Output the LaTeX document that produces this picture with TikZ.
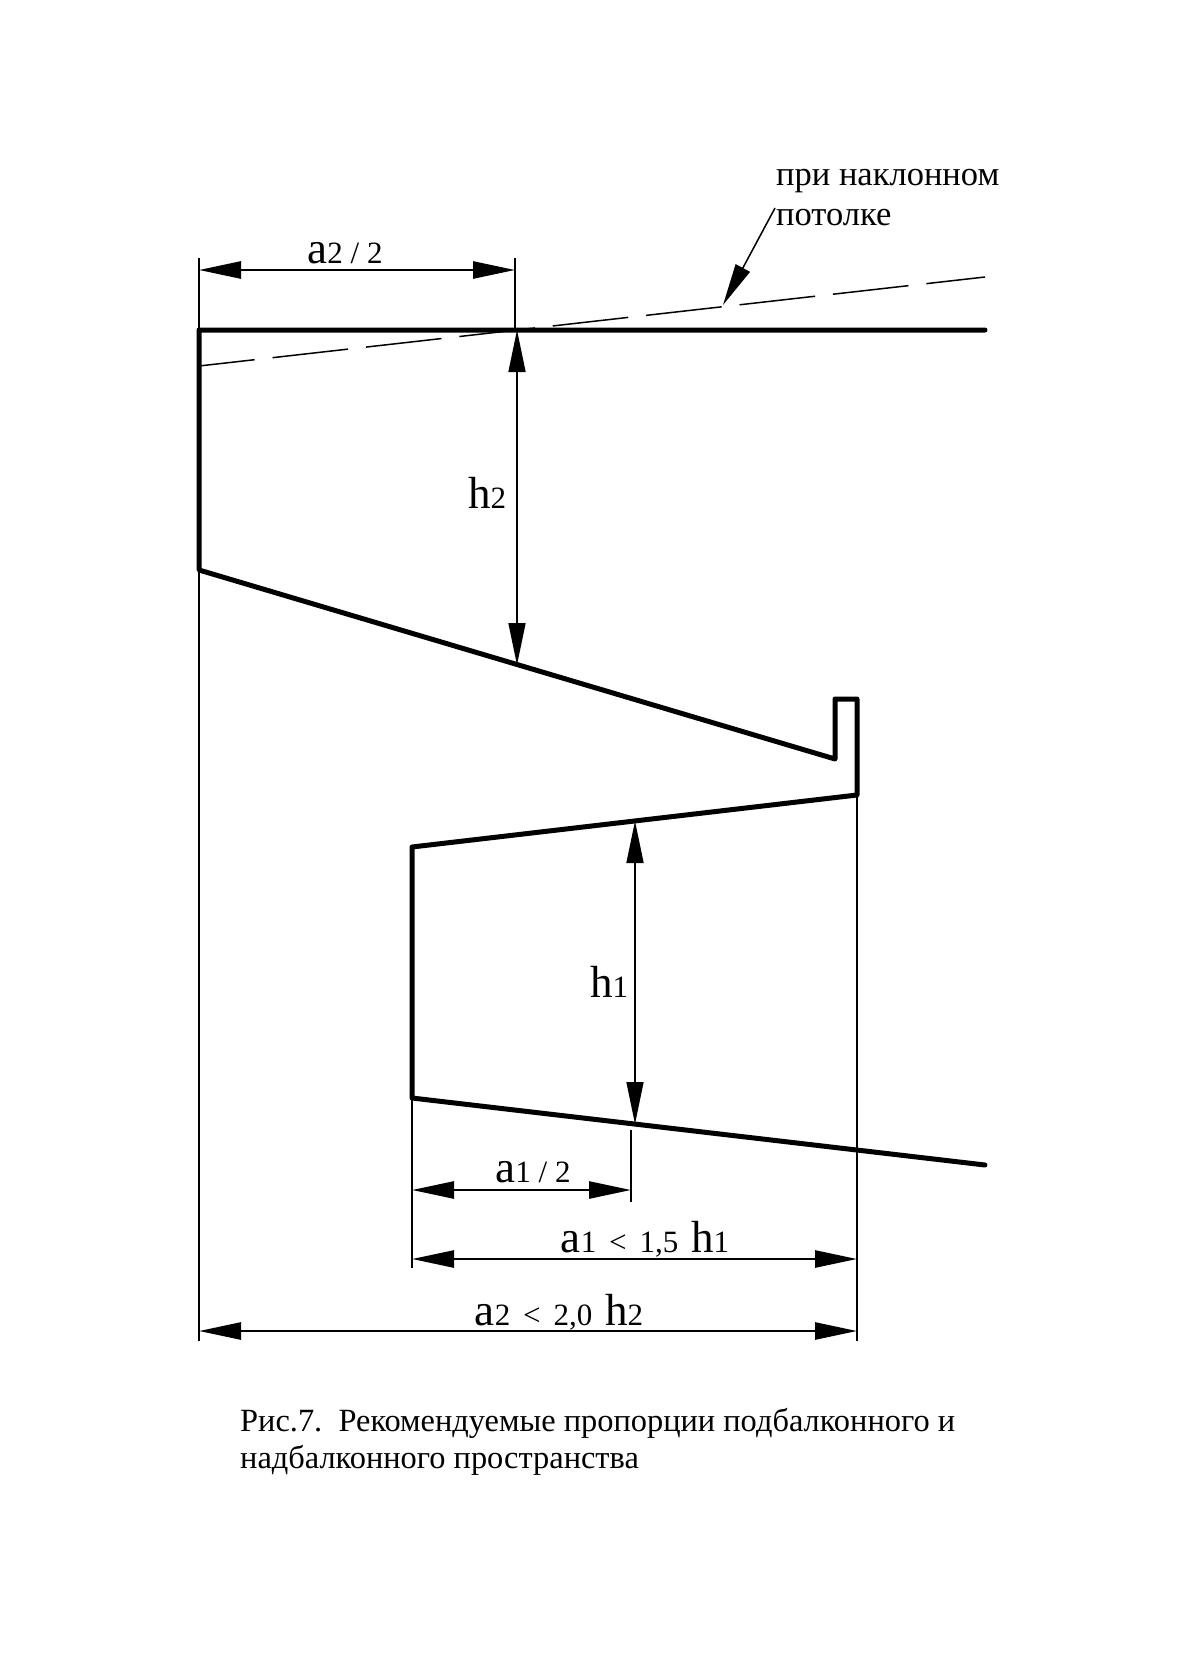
\documentclass[tikz,border=0pt]{standalone}
\usepackage{fontspec}
\setmainfont{Liberation Serif}
\usetikzlibrary{arrows.meta}
\newcommand{\bigt}[1]{{\fontsize{45}{45}\selectfont #1}}
\newcommand{\smt}[1]{{\fontsize{31}{31}\selectfont #1}}
\tikzset{
  wall/.style={line width=5pt,line join=round,line cap=round},
  ext/.style={line width=1.5pt},
  dim/.style={line width=1.6pt,{Triangle[length=42pt,width=17pt]}-{Triangle[length=42pt,width=17pt]}},
  hdim/.style={dim,line width=2.6pt},
  lead/.style={line width=1.5pt,-{Triangle[length=42pt,width=16pt]}},
  slope/.style={line width=1.5pt,dash pattern=on 76pt off 18pt,dash phase=20pt},
  lab/.style={inner sep=0pt,anchor=base},
  txt/.style={inner sep=0pt,anchor=base west},
  note/.style={txt,font=\fontsize{34.5}{34.5}\selectfont},
  capt/.style={txt,font=\fontsize{32.4}{32.4}\selectfont},
}
\begin{document}
\begin{tikzpicture}[x=1pt,y=-1pt]
\useasboundingbox (0,0) rectangle (1180,1653);
\fill[white] (0,0) rectangle (1180,1653);
\begin{scope}[shift={(1,2)}]
% profile
\coordinate (tr) at (984,328);
\coordinate (tl) at (198,328);
\coordinate (wb) at (198,568);
\coordinate (sm) at (516,663);
\coordinate (se) at (834,757);
\coordinate (p1) at (834,697);
\coordinate (p2) at (856,697);
\coordinate (p3) at (856,793);
\coordinate (bt) at (411,845);
\coordinate (bb) at (411,1096);
\coordinate (be) at (984,1163);
\coordinate (tm) at (634,819);
\coordinate (bm) at (634,1122);
\draw[wall] (tr) -- (tl) -- (wb) -- (se) -- (p1) -- (p2) -- (p3) -- (bt) -- (bb) -- (be);
% sloped ceiling
\coordinate (d1) at (198,364);
\coordinate (d2) at (984,275);
\draw[slope] (d1) -- (d2);
\coordinate (lt) at (774,206);
\coordinate (lh) at (722,303);
\draw[lead] (lt) -- (lh);
% extension lines
\coordinate (e1a) at (198,256);
\coordinate (e1b) at (198,1339);
\draw[ext] (e1a) -- (tl);
\draw[ext] (wb) -- (e1b);
\coordinate (e2a) at (514,256);
\coordinate (e2b) at (514,328);
\draw[ext] (e2a) -- (e2b);
\coordinate (e3a) at (856,793);
\coordinate (e3b) at (856,1339);
\draw[ext] (e3a) -- (e3b);
\coordinate (e4a) at (411,1096);
\coordinate (e4b) at (411,1266);
\draw[ext] (e4a) -- (e4b);
\coordinate (e5a) at (630,1128);
\coordinate (e5b) at (630,1200);
\draw[ext] (e5a) -- (e5b);
% dims
\coordinate (a2l) at (198,268);
\coordinate (a2r) at (514,268);
\draw[hdim] (a2l) -- (a2r);
\coordinate (h2t) at (516,328);
\draw[dim] (h2t) -- (sm);
\draw[dim] (tm) -- (bm);
\coordinate (a1l) at (411,1188);
\coordinate (a1r) at (630,1188);
\draw[hdim] (a1l) -- (a1r);
\coordinate (b1l) at (411,1257);
\coordinate (b1r) at (856,1257);
\draw[hdim] (b1l) -- (b1r);
\coordinate (c1l) at (198,1329);
\coordinate (c1r) at (856,1329);
\draw[hdim] (c1l) -- (c1r);
% labels
\node[lab] (la2) at (344,261) {\bigt{a}\smt{2 / 2}};
\node[lab] (lh2) at (486,506) {\bigt{h}\smt{2}};
\node[lab] (lh1) at (608,995) {\bigt{h}\smt{1}};
\node[lab] (la1) at (532,1180) {\bigt{a}\smt{1 / 2}};
\node[lab] (lb) at (644,1250) {\bigt{a}\smt{1 \,<\, 1,5 \,}\bigt{h}\smt{1}};
\node[lab] (lc) at (558,1323) {\bigt{a}\smt{2 \,<\, 2,0 \,}\bigt{h}\smt{2}};
\node[note] (n1) at (775,184) {при наклонном};
\node[note] (n2) at (775,224) {потолке};
\node[capt] (c1) at (239,1429) {Рис.7.\ \ Рекомендуемые пропорции подбалконного и};
\node[capt] (c2) at (239,1466) {надбалконного пространства};
\end{scope}
\end{tikzpicture}
\end{document}
